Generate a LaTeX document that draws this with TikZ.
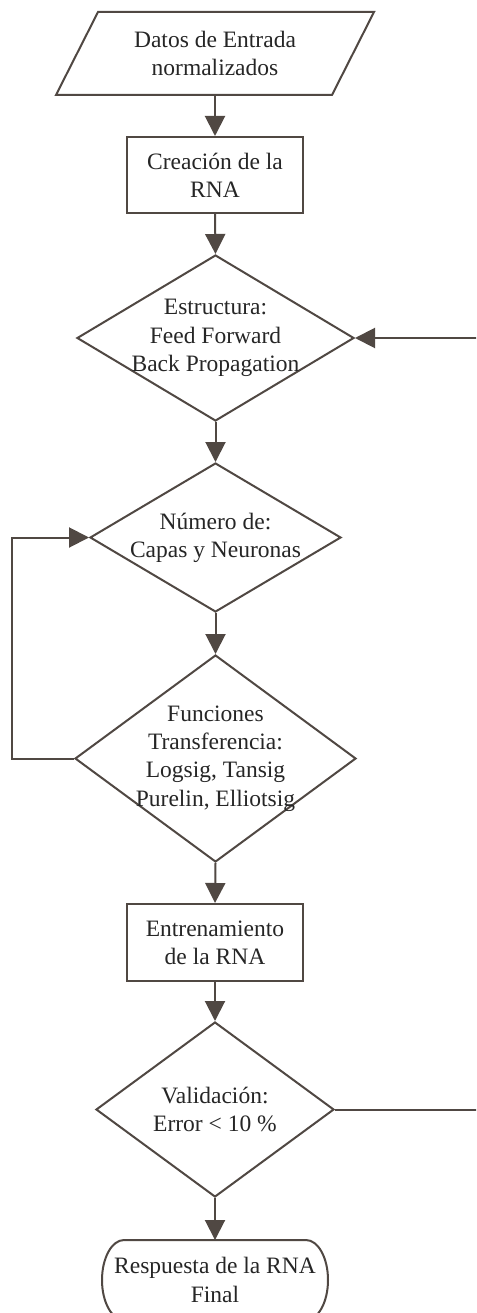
\documentclass[tikz,border=0pt]{standalone}
\usepackage{fontspec}
\setmainfont{Liberation Serif}
\usetikzlibrary{arrows.meta,shapes.geometric,calc}
\definecolor{ln}{RGB}{80,72,67}
\definecolor{tx}{RGB}{38,38,38}
\begin{document}
\begin{tikzpicture}[x=1pt,y=-1pt,
  every node/.style={font=\fontsize{23.5}{28.2}\selectfont, text=tx, align=center},
  shp/.style={draw=ln, line width=2pt},
  boxnode/.style={shp, rectangle, inner sep=0pt, minimum width=176pt},
  dia/.style={shp, diamond, inner sep=0pt, shape aspect=1},
  txt/.style={inner sep=0pt, outer sep=0pt},
  arr/.style={draw=ln, line width=2pt, -{Triangle[length=20pt,width=20pt]}},
  ln/.style={draw=ln, line width=2pt}]
\clip (0,0) rectangle (476,1313);
\fill[white] (0,0) rectangle (476,1313);

% input parallelogram
\node[txt, minimum width=318pt, minimum height=83pt] (p) at (215,53.5) {Datos de Entrada\\normalizados};
\draw[shp, line join=miter] ($(p.south west)$) -- ($(p.north west)+(42,0)$) -- (p.north east) -- ($(p.south east)+(-42,0)$) -- cycle;

\node[boxnode, minimum height=76pt] (r1) at (215,175) {Creación de la\\RNA};

\node[dia, minimum width=277pt, minimum height=166pt] (d1) at (215.5,338) {};
\node[txt] (d1t) at (d1.center) {Estructura:\\Feed Forward\\Back Propagation};

\node[dia, minimum width=251pt, minimum height=149pt] (d2) at (215.5,537.5) {};
\node[txt] (d2t) at (d2.center) {Número de:\\Capas y Neuronas};

\node[dia, minimum width=281pt, minimum height=207pt] (d3) at (215.5,758.5) {};
\node[txt] (d3t) at (d3.center) {Funciones\\Transferencia:\\Logsig, Tansig\\Purelin, Elliotsig};

\node[boxnode, minimum height=77pt] (r2) at (215,942.5) {Entrenamiento\\de la RNA};

\node[dia, minimum width=238pt, minimum height=175pt] (d4) at (215,1109.5) {};
\node[txt] (d4t) at (d4.center) {Validación:\\Error < 10 \%};

% terminal
\node[txt, minimum width=226pt, minimum height=80pt] (t) at (215,1280) {Respuesta de la RNA\\Final};
\draw[shp] ($(t.north west)+(22,0)$) arc[start angle=90, end angle=180, x radius=22pt, y radius=40pt]
  arc[start angle=180, end angle=270, x radius=22pt, y radius=40pt]
  -- ($(t.south east)+(-22,0)$)
  arc[start angle=270, end angle=360, x radius=22pt, y radius=40pt]
  arc[start angle=0, end angle=90, x radius=22pt, y radius=40pt] -- cycle;

% connectors
\draw[arr] (p.south) -- (r1.north);
\draw[arr] (r1.south) -- (d1.north);
\draw[arr] (d1.south) -- (d2.north);
\draw[arr] (d2.south) -- (d3.north);
\draw[arr] (d3.south) -- (r2.north);
\draw[arr] (r2.south) -- (d4.north);
\draw[arr] (d4.south) -- (t.north);

\coordinate (lp) at (12,758.5);
\draw[arr] (d3.west) -- (lp) |- (d2.west);

\coordinate (rb) at (484,1109.5);
\coordinate (rt) at (484,338);
\draw[arr] (d4.east) -- (rb) -- (rt) -- (d1.east);
\end{tikzpicture}
\end{document}
